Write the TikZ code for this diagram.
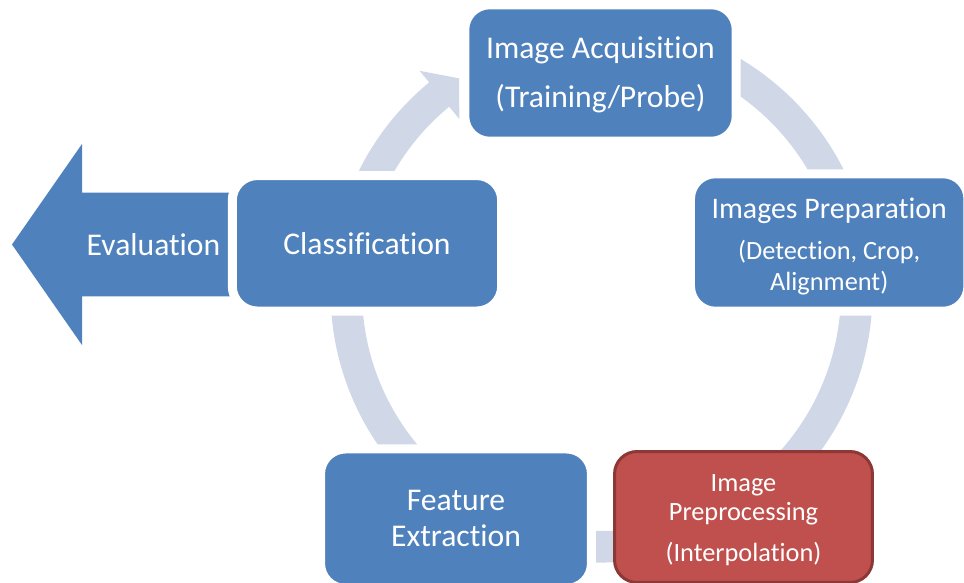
\documentclass[tikz,border=0pt]{standalone}
\usepackage{fontspec}
\setmainfont{Carlito}[Ligatures=NoCommon]
\usetikzlibrary{calc}
\definecolor{boxblue}{RGB}{79,129,189}
\definecolor{boxred}{RGB}{192,80,77}
\definecolor{redrim}{RGB}{140,56,54}
\definecolor{ringgrey}{RGB}{208,216,232}

\begin{document}
\begin{tikzpicture}[x=0.02cm, y=0.02cm,
  stage/.style={rectangle, rounded corners=0.5cm, fill=boxblue, draw=white,
    line width=0.18cm, text=white, align=center, inner sep=0pt},
  hotstage/.style={rectangle, rounded corners=0.45cm, fill=boxred, draw=redrim,
    line width=0.06cm, text=white, align=center, inner sep=0pt},
  big/.style={font=\fontsize{18}{21.6}\selectfont}]
\clip (0,0) rectangle (964,582);
\useasboundingbox (0,0) rectangle (964,582);

% centre of the cycle ring
\coordinate (C) at (601.5,290.5);
\coordinate (tip) at (459,503.7);

% cycle ring with its arrow head at the upper left
\fill[ringgrey] ($(C)+(100:271)$) arc[start angle=100, end angle=-230.5, radius=271]
  -- ($(C)+(129.5:286)$) -- (tip) -- ($(C)+(129.5:223.5)$) -- ($(C)+(129.5:239.5)$)
  arc[start angle=129.5, end angle=460, radius=239.5] -- cycle;

% big arrow leaving the cycle
\fill[boxblue] (12,337.5) -- (82,438) -- (82,389.3) -- (240,389.3)
  -- (240,285.5) -- (82,285.5) -- (82,237) -- cycle;
\node[text=white, big] (evaluation) at (153.5,337.5) {Evaluation};

% stages of the cycle (the struts set the text a little lower in its box)
\node[stage, minimum width=5.43cm, minimum height=2.73cm,
  font=\fontsize{18}{27.9}\selectfont] (acq) at (600.5,509)
  {\rule{0pt}{15pt}Image Acquisition\\(Training/Probe)};
\node[stage, minimum width=5.55cm, minimum height=2.75cm,
  font=\fontsize{15}{17.6}\selectfont] (prep) at (829.2,339.5)
  {\rule{0pt}{16.5pt}{\fontsize{17}{17.6}\selectfont Images Preparation}\\[5.5pt](Detection, Crop,\\Alignment)};
\node[stage, minimum width=5.39cm, minimum height=2.71cm, big] (cls) at (367,338.7)
  {Classification};
\node[stage, minimum width=5.42cm, minimum height=2.79cm,
  font=\fontsize{18}{20.5}\selectfont] (fe) at (456,63.3)
  {Feature\\Extraction};
\node[hotstage, minimum width=5.16cm, minimum height=2.62cm,
  font=\fontsize{15}{16.1}\selectfont] (pre) at (743.5,65)
  {\rule{0pt}{13.3pt}Image\\Preprocessing\\[7.2pt](Interpolation)};
\end{tikzpicture}
\end{document}
